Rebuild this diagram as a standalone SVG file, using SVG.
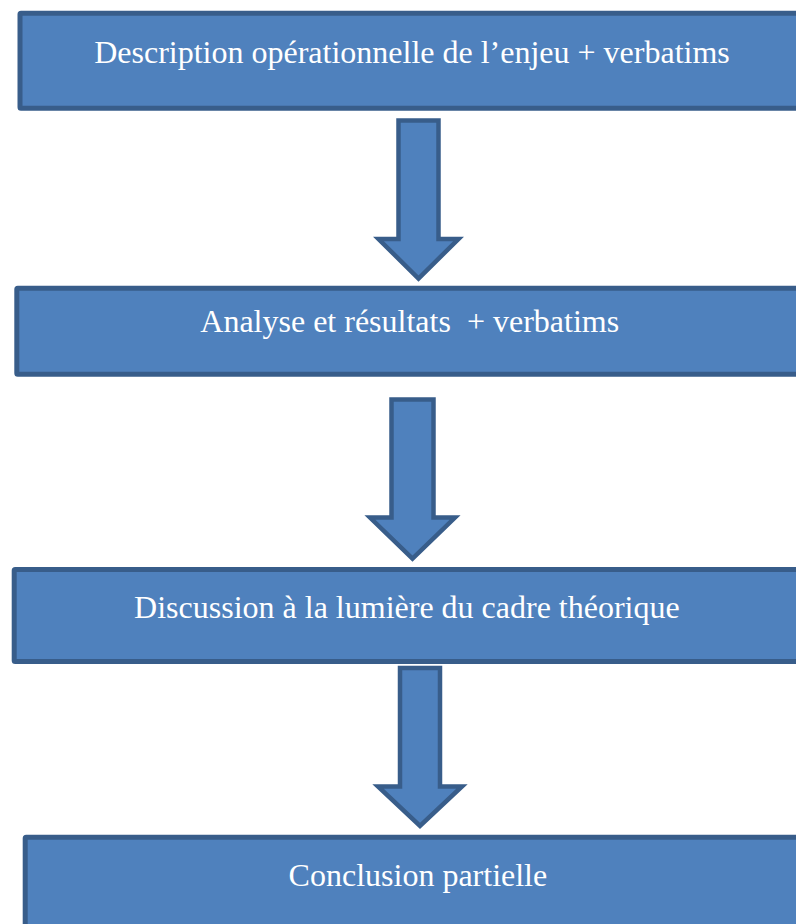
<svg xmlns="http://www.w3.org/2000/svg" width="796" height="924" viewBox="0 0 796 924">
  <style>
    .box { fill: #4F81BD; stroke: #385D8A; stroke-width: 5; }
    .arrow { fill: #4F81BD; stroke: #385D8A; stroke-width: 4.5; stroke-linejoin: miter; }
    .label { font-family: "Liberation Serif", "Times New Roman", serif; font-size: 32px; fill: #FFFFFF; text-anchor: middle; white-space: pre; }
  </style>
  <rect width="796" height="924" fill="#FFFFFF"/>
  <g id="connectors">
    <polygon class="arrow" points="398.5,120.5 438.5,120.5 438.5,239 458.5,239 418.5,278.5 378.5,239 398.5,239"/>
    <polygon class="arrow" points="391.5,399.5 433.5,399.5 433.5,517.5 455,517.5 412.5,558.5 370,517.5 391.5,517.5"/>
    <polygon class="arrow" points="400,668 440,668 440,786.5 462,786.5 420,826 378,786.5 400,786.5"/>
  </g>
  <g id="node1">
    <rect class="box" x="20" y="13.2" width="800" height="95" rx="1"/>
    <text class="label" x="412" y="62.7">Description opérationnelle de l’enjeu + verbatims</text>
  </g>
  <g id="node2">
    <rect class="box" x="16.8" y="288.2" width="800" height="86" rx="1"/>
    <text class="label" x="409.7" y="331.7" xml:space="preserve">Analyse et résultats  + verbatims</text>
  </g>
  <g id="node3">
    <rect class="box" x="14.2" y="569.5" width="800" height="92" rx="1"/>
    <text class="label" x="406.9" y="618.3">Discussion à la lumière du cadre théorique</text>
  </g>
  <g id="node4">
    <rect class="box" x="25.2" y="837.2" width="800" height="100" rx="1"/>
    <text class="label" x="417.9" y="885.7">Conclusion partielle</text>
  </g>
</svg>
